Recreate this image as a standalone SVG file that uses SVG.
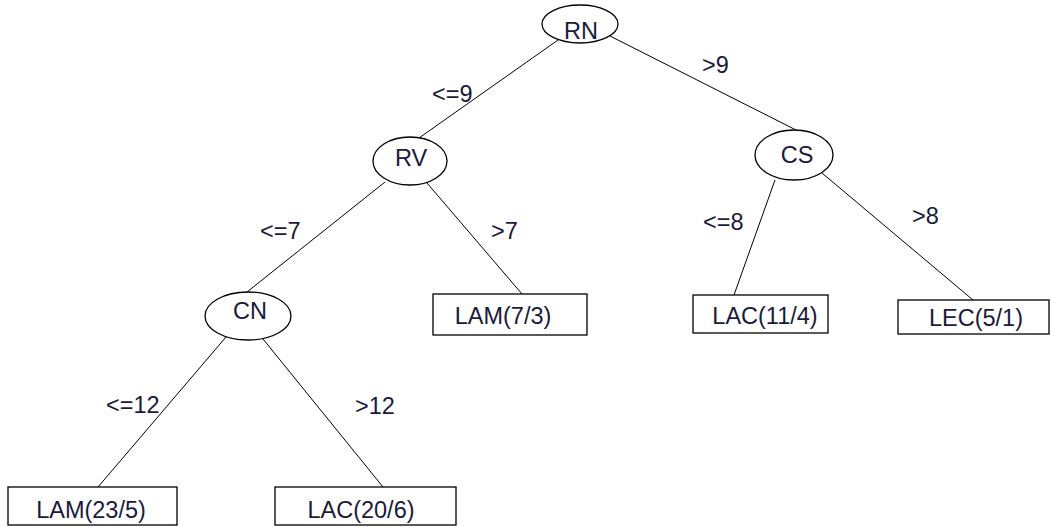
<svg xmlns="http://www.w3.org/2000/svg" width="1051" height="527" viewBox="0 0 1051 527">
  <style>
    .node { fill: #ffffff; stroke: #000000; stroke-width: 1.3; }
    .edge { stroke: #000000; stroke-width: 1; fill: none; }
    text { font-family: "Liberation Sans", Arial, sans-serif; font-size: 23.5px; fill: #1a1a3a; }
    .n { text-anchor: middle; }
  </style>
  <rect x="0" y="0" width="1051" height="527" fill="#ffffff"/>

  <!-- connectors -->
  <g id="connectors">
    <line class="edge" x1="558" y1="40" x2="419" y2="138"/>
    <line class="edge" x1="610" y1="36" x2="796" y2="130"/>
    <line class="edge" x1="385" y1="182" x2="247" y2="292"/>
    <line class="edge" x1="427" y1="183" x2="522" y2="294"/>
    <line class="edge" x1="775" y1="180" x2="734" y2="295"/>
    <line class="edge" x1="822" y1="173" x2="973" y2="300"/>
    <line class="edge" x1="226" y1="337" x2="98" y2="487"/>
    <line class="edge" x1="263" y1="339" x2="383" y2="487"/>
    <text x="432" y="102">&lt;=9</text>
    <text x="702" y="73">&gt;9</text>
    <text x="260" y="239">&lt;=7</text>
    <text x="491" y="239">&gt;7</text>
    <text x="703" y="230">&lt;=8</text>
    <text x="912" y="224">&gt;8</text>
    <text x="106" y="413">&lt;=12</text>
    <text x="355" y="414">&gt;12</text>
  </g>

  <g id="node-RN">
    <ellipse class="node" cx="580" cy="24" rx="38" ry="19"/>
    <text class="n" x="581" y="39">RN</text>
  </g>
  <g id="node-RV">
    <ellipse class="node" cx="410" cy="161" rx="37" ry="24"/>
    <text class="n" x="411" y="166">RV</text>
  </g>
  <g id="node-CS">
    <ellipse class="node" cx="794" cy="155" rx="39" ry="25"/>
    <text class="n" x="797" y="163">CS</text>
  </g>
  <g id="node-CN">
    <ellipse class="node" cx="248" cy="316" rx="43" ry="24"/>
    <text class="n" x="250" y="319">CN</text>
  </g>
  <g id="leaf-LAM-7-3">
    <rect class="node" x="433" y="294" width="154" height="41"/>
    <text class="n" x="503" y="324">LAM(7/3)</text>
  </g>
  <g id="leaf-LAC-11-4">
    <rect class="node" x="693" y="295" width="135" height="38"/>
    <text class="n" x="765" y="324">LAC(11/4)</text>
  </g>
  <g id="leaf-LEC-5-1">
    <rect class="node" x="898" y="300" width="151" height="34"/>
    <text class="n" x="976" y="326">LEC(5/1)</text>
  </g>
  <g id="leaf-LAM-23-5">
    <rect class="node" x="8" y="487" width="169" height="38"/>
    <text class="n" x="91" y="518">LAM(23/5)</text>
  </g>
  <g id="leaf-LAC-20-6">
    <rect class="node" x="275" y="487" width="181" height="38"/>
    <text class="n" x="361" y="518">LAC(20/6)</text>
  </g>
</svg>
